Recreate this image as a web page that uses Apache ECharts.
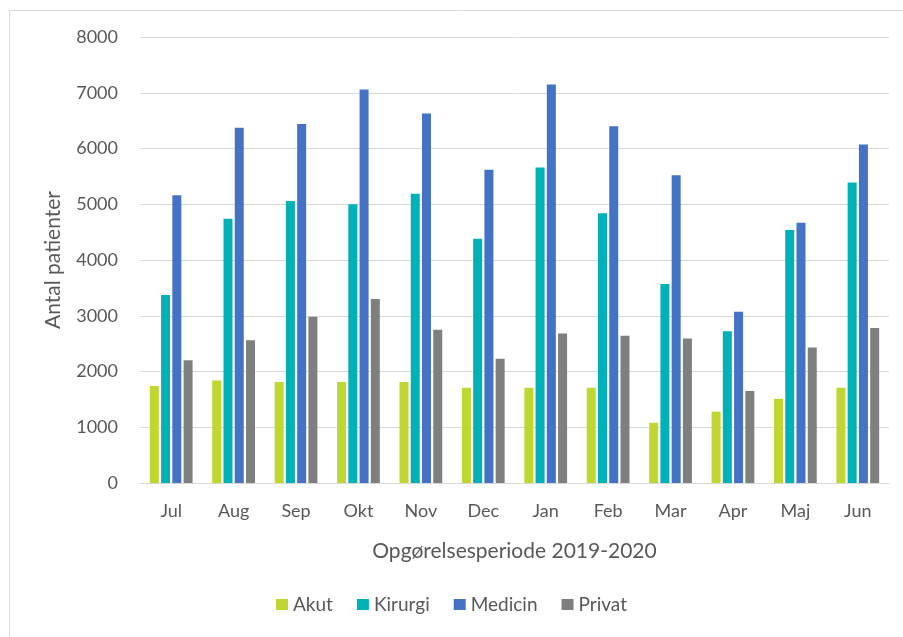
<!DOCTYPE html>
<html><head><meta charset="utf-8">
<script src="https://cdn.jsdelivr.net/npm/echarts@6/dist/echarts.min.js"></script>
<style>html,body{margin:0;padding:0;background:#fff}#c{width:903px;height:637px}</style>
</head><body><div id="c"></div>
<script>
const categories = ['Jul','Aug','Sep','Okt','Nov','Dec','Jan','Feb','Mar','Apr','Maj','Jun'];
const akut    = [1740,1840,1810,1810,1810,1710,1710,1710,1080,1280,1510,1710];
const kirurgi = [3370,4740,5060,5000,5190,4380,5660,4840,3570,2720,4540,5390];
const medicin = [5160,6370,6440,7060,6630,5620,7150,6400,5520,3070,4670,6070];
const privat  = [2200,2560,2980,3300,2750,2230,2680,2640,2590,1650,2430,2780];
const yTicks = [0,1000,2000,3000,4000,5000,6000,7000,8000];

const font = 'Lato, "Open Sans", sans-serif';
const chart = echarts.init(document.getElementById('c'), null, {renderer:'canvas'});
function s(name, data, color){
  return {name, type:'bar', data, barWidth:9, barGap:'25%', itemStyle:{color}};
}
chart.setOption({
  animation:false,
  textStyle:{fontFamily:font},
  graphic:[{type:'rect', shape:{x:9.5,y:10.5,width:1000,height:1000}, style:{fill:null, stroke:'#d9d9d9', lineWidth:1}, silent:true, z:-1}],
  grid:{left:140, right:14, top:37, bottom:154, containLabel:false},
  legend:{bottom:18, left:'center', itemWidth:12, itemHeight:11, itemGap:24, icon:'rect',
    textStyle:{color:'#595959', fontSize:19, fontFamily:font},
    data:['Akut','Kirurgi','Medicin','Privat']},
  xAxis:{type:'category', data:categories,
    axisLine:{lineStyle:{color:'#d9d9d9', width:1}}, axisTick:{show:false},
    axisLabel:{color:'#595959', fontSize:18, margin:19},
    name:'Opgørelsesperiode 2019-2020', nameLocation:'middle', nameGap:58,
    nameTextStyle:{color:'#595959', fontSize:21}},
  yAxis:{type:'value', min:yTicks[0], max:yTicks[yTicks.length-1], interval:1000,
    axisLine:{show:false}, axisTick:{show:false},
    splitLine:{lineStyle:{color:'#d9d9d9', width:1}},
    axisLabel:{color:'#595959', fontSize:18, margin:22, formatter:v=>String(v)},
    name:'Antal patienter', nameLocation:'middle', nameGap:76, nameRotate:90,
    nameTextStyle:{color:'#595959', fontSize:21}},
  series:[
    s('Akut', akut, '#bfd730'),
    s('Kirurgi', kirurgi, '#00b2b8'),
    s('Medicin', medicin, '#4472c4'),
    s('Privat', privat, '#7f7f7f')
  ]
});
</script></body></html>
